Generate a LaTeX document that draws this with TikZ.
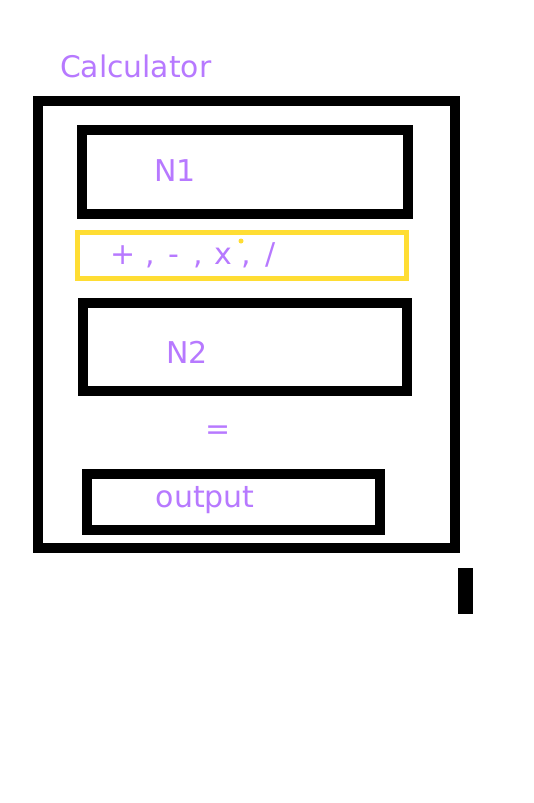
\documentclass[tikz,border=0pt]{standalone}
\usepackage{fontspec}
\setmainfont{DejaVu Sans}
\definecolor{txtpurple}{RGB}{183,121,255}
\definecolor{opyellow}{RGB}{255,221,51}
\tikzset{
  frame/.style={draw=black, line width=10pt, rectangle, inner sep=0pt, outer sep=0pt},
  opframe/.style={draw=opyellow, line width=5pt, rectangle, inner sep=0pt, outer sep=0pt},
  lbl/.style={text=txtpurple, font=\fontsize{30}{36}\selectfont, inner sep=0pt, anchor=base west},
}
\begin{document}
\begin{tikzpicture}[x=1pt,y=-1pt]
\useasboundingbox (0,0) rectangle (533,803);
\fill[white] (0,0) rectangle (533,803);
% boxes
\node[frame, minimum width=417pt, minimum height=446.7pt] (calc) at (246.5,324.35) {};
\node[frame, minimum width=326pt, minimum height=84pt] (n1box) at (245,172) {};
\node[opframe, minimum width=328.6pt, minimum height=45.3pt] (opbox) at (242,255.35) {};
\node[frame, minimum width=324pt, minimum height=88pt] (n2box) at (245,347) {};
\node[frame, minimum width=293pt, minimum height=56pt] (outbox) at (233.5,502) {};
\node[fill=black, inner sep=0pt, minimum width=15pt, minimum height=46pt] (bar) at (465.5,591) {};
\node[circle, fill=opyellow, inner sep=0pt, minimum size=5pt] (dot) at (241,241) {};
% texts
\node[lbl, font=\fontsize{29.8}{35}\selectfont] (title) at (59.8,77) {Calculator};
\node[lbl] (n1) at (154.2,181) {N1};
\node[lbl] (ops) at (110.3,264) {+\hspace{10.3pt},\hspace{13.3pt}-\hspace{13.4pt},\hspace{11.9pt}x\hspace{8.8pt},\hspace{14.8pt}/};
\node[lbl] (n2) at (166,363) {N2};
\node[text=txtpurple, font=\fontsize{30}{36}\selectfont, inner sep=0pt] (eq) at (218,433) {=};
\node[lbl] (out) at (155.5,507) {output};
\end{tikzpicture}
\end{document}
